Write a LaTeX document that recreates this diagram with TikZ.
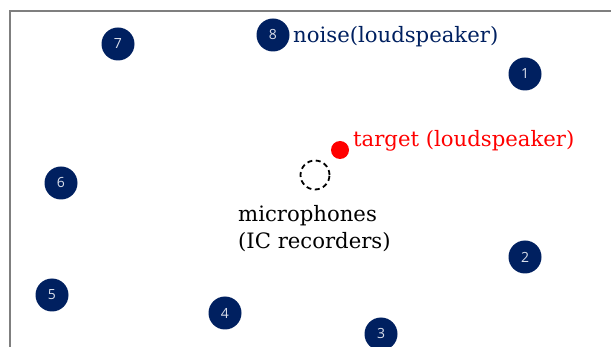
\documentclass[tikz,border=0pt]{standalone}
\usepackage{fontspec}
\setmainfont{DejaVu Serif}
\newfontfamily\numfont{Open Sans}
\definecolor{navy}{HTML}{002060}
\definecolor{numcol}{HTML}{D9DEEA}
\definecolor{framegray}{HTML}{7F7F7F}
\begin{document}
\begin{tikzpicture}[x=1pt,y=-1pt,
  src/.style={circle,fill=navy,minimum size=33pt,inner sep=0pt,text=numcol,font=\numfont\fontsize{14}{16}\selectfont},
  lbl/.style={inner sep=0pt,font=\fontsize{21.2}{27.5}\selectfont}]
\useasboundingbox (0,0) rectangle (611,347);
\draw[framegray,line width=1.6pt] (10,348) -- (10,11) -- (612,11);
\node[src] (n1) at (525,74) {1};
\node[src] (n2) at (525,257) {2};
\node[src] (n3) at (381,334) {3};
\node[src] (n4) at (225,313) {4};
\node[src] (n5) at (52,295) {5};
\node[src] (n6) at (61,183) {6};
\node[src] (n7) at (118,44) {7};
\node[src] (n8) at (273,35) {8};
\node[lbl,text=navy,anchor=west] (noise) at (293,37) {noise(loudspeaker)};
\node[circle,fill=red,minimum size=18pt,inner sep=0pt] (tgt) at (340,150) {};
\node[lbl,text=red,anchor=west] (tlabel) at (353,141) {target (loudspeaker)};
\node[circle,draw=black,dash pattern=on 5pt off 3.5pt,line width=1.8pt,minimum size=29pt,inner sep=0pt] (mic) at (315,175) {};
\node[lbl,anchor=north west,align=left] (miclabel) at (238,205) {microphones\\(IC recorders)};
\end{tikzpicture}
\end{document}
